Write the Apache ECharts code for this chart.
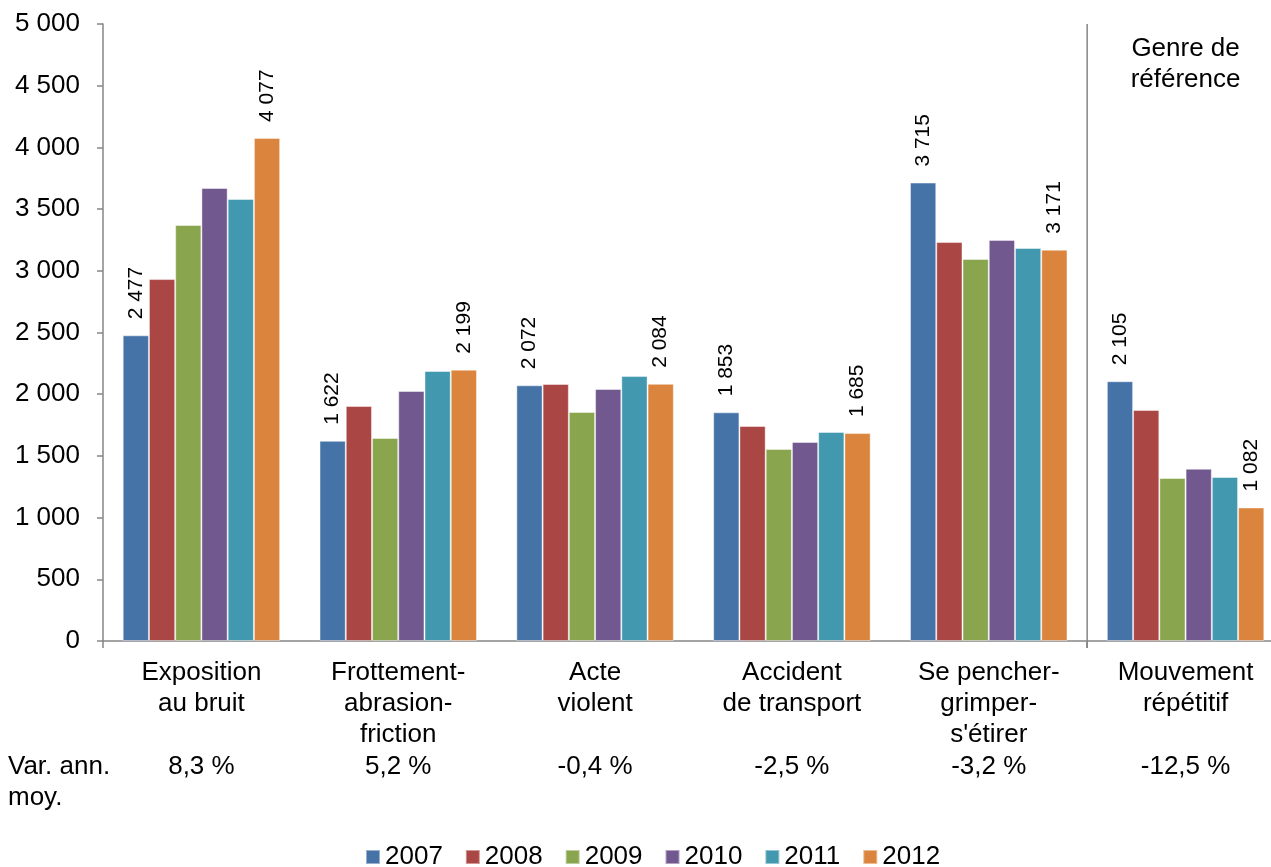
<!DOCTYPE html>
<html>
<head>
<meta charset="utf-8">
<script src="https://cdn.jsdelivr.net/npm/echarts@6/dist/echarts.min.js"></script>
<style>
  html, body { margin: 0; padding: 0; background: #fff; overflow: hidden; }
  /* the plot area runs slightly past the right edge of the page */
  #chart { width: 1284px; height: 867px; }
</style>
</head>
<body>
<div id="chart"></div>
<script>
// Genres de lésion, nombre annuel 2007-2012
const categories = [
  'Exposition\nau bruit',
  'Frottement-\nabrasion-\nfriction',
  'Acte\nviolent',
  'Accident\nde transport',
  'Se pencher-\ngrimper-\ns\'étirer',
  'Mouvement\nrépétitif'
];
const varAnnMoy = ['8,3 %', '5,2 %', '-0,4 %', '-2,5 %', '-3,2 %', '-12,5 %'];
const years = ['2007', '2008', '2009', '2010', '2011', '2012'];
const v2007 = [2477, 1622, 2072, 1853, 3715, 2105];
const v2008 = [2933, 1904, 2083, 1742, 3233, 1872];
const v2009 = [3371, 1645, 1856, 1556, 3096, 1321];
const v2010 = [3671, 2026, 2042, 1613, 3250, 1396];
const v2011 = [3582, 2188, 2147, 1694, 3185, 1329];
const v2012 = [4077, 2199, 2084, 1685, 3171, 1082];
const yTicks = { min: 0, max: 5000, interval: 500 };
const refGroupLabel = 'Genre de\nréférence';
const rowLabel = 'Var. ann.\nmoy.';

const colors = ['#4572A7', '#AA4643', '#89A54E', '#71588F', '#4198AF', '#DB843D'];
const FONT = '"Liberation Sans", Arial, sans-serif';
const AXIS_GREY = '#868686';

function fmt(n) {
  return String(n).replace(/\B(?=(\d{3})+(?!\d))/g, ' ');
}

const allValues = [v2007, v2008, v2009, v2010, v2011, v2012];
// only the first and last year carry a value label
const labelled = { '2007': true, '2012': true };

const series = years.map((y, i) => ({
  name: y,
  type: 'bar',
  data: allValues[i],
  barGap: '0%',
  barCategoryGap: '20%',
  itemStyle: { color: colors[i], borderColor: 'rgba(255,255,255,0.45)', borderWidth: 1 },
  label: {
    show: !!labelled[y],
    position: 'top',
    rotate: 90,
    align: 'left',
    verticalAlign: 'middle',
    distance: 16,
    fontFamily: FONT,
    fontSize: 21,
    color: '#000',
    formatter: p => fmt(p.value)
  },
  emphasis: { disabled: true },
  animation: false
}));

const chart = echarts.init(document.getElementById('chart'), null, { renderer: 'canvas' });

chart.setOption({
  animation: false,
  color: colors,
  textStyle: { fontFamily: FONT },
  grid: { left: 103, right: 0, top: 24, bottom: 226, containLabel: false },
  legend: {
    data: years,
    top: 839,
    left: 360,
    icon: 'rect',
    itemWidth: 14,
    itemHeight: 14,
    itemGap: 22,
    textStyle: { fontFamily: FONT, fontSize: 26, lineHeight: 26, color: '#000', padding: [0, 0, 0, 0] }
  },
  xAxis: [
    {
      type: 'category',
      data: categories,
      axisLine: { lineStyle: { color: AXIS_GREY, width: 1.5 } },
      axisTick: {
        show: true,
        length: 7,
        interval: (idx) => idx % 5 === 0,
        lineStyle: { color: AXIS_GREY, width: 1.5 }
      },
      axisLabel: {
        interval: 0,
        margin: 16,
        fontFamily: FONT,
        fontSize: 26,
        lineHeight: 31,
        color: '#000'
      }
    },
    {
      // average annual variation row under the category names
      type: 'category',
      data: varAnnMoy,
      position: 'bottom',
      offset: 110,
      axisLine: { show: false },
      axisTick: { show: false },
      axisLabel: {
        interval: 0,
        margin: 0,
        fontFamily: FONT,
        fontSize: 26,
        lineHeight: 31,
        color: '#000'
      }
    }
  ],
  yAxis: {
    type: 'value',
    min: yTicks.min,
    max: yTicks.max,
    interval: yTicks.interval,
    splitLine: { show: false },
    axisLine: { show: true, lineStyle: { color: AXIS_GREY, width: 1.5 } },
    axisTick: { show: true, length: 6, lineStyle: { color: AXIS_GREY, width: 1.5 } },
    axisLabel: {
      margin: 23,
      fontFamily: FONT,
      fontSize: 26,
      color: '#000',
      formatter: v => fmt(v)
    }
  },
  series: series
});

// Separator between the regular groups and the reference group, plus side texts
function drawDecorations() {
  const xPrev = chart.convertToPixel({ xAxisIndex: 0 }, categories[4]);
  const xRef = chart.convertToPixel({ xAxisIndex: 0 }, categories[5]);
  const xSep = (xPrev + xRef) / 2;
  const yTop = chart.convertToPixel({ yAxisIndex: 0 }, yTicks.max);
  const yBase = chart.convertToPixel({ yAxisIndex: 0 }, yTicks.min);
  chart.setOption({
    graphic: [
      {
        type: 'line',
        shape: { x1: xSep, y1: yTop, x2: xSep, y2: yBase + 7 },
        style: { stroke: AXIS_GREY, lineWidth: 1.5 },
        silent: true
      },
      {
        type: 'text',
        x: xRef,
        y: yTop + 9,
        style: {
          text: refGroupLabel,
          fontFamily: FONT,
          fontSize: 26,
          lineHeight: 31,
          fill: '#000',
          align: 'center',
          verticalAlign: 'top'
        },
        silent: true
      },
      {
        type: 'text',
        x: 8,
        y: yBase + 110,
        style: {
          text: rowLabel,
          fontFamily: FONT,
          fontSize: 26,
          lineHeight: 31,
          fill: '#000',
          align: 'left',
          verticalAlign: 'top'
        },
        silent: true
      }
    ]
  });
}
drawDecorations();
</script>
</body>
</html>
